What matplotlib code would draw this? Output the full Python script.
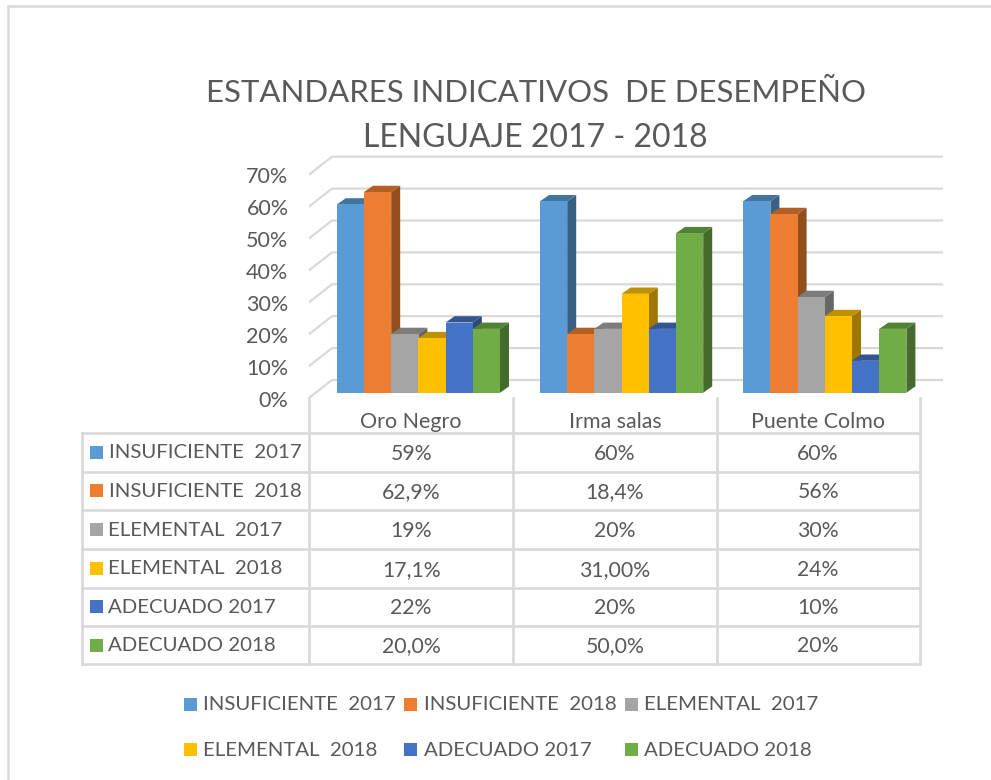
"""
ESTANDARES INDICATIVOS DE DESEMPENO - Lenguaje 2017-2018
Excel style 3D column chart with data table underneath
"""
import matplotlib
matplotlib.use("Agg")
import matplotlib.pyplot as plt
from matplotlib.colors import to_rgb
from matplotlib.patches import Polygon, Rectangle

# ── Data ───────────────────────────────────────────────
schools = ["Oro Negro", "Irma salas", "Puente Colmo"]
series_names = ["INSUFICIENTE  2017", "INSUFICIENTE  2018", "ELEMENTAL  2017",
                "ELEMENTAL  2018", "ADECUADO 2017", "ADECUADO 2018"]

# heights as drawn, in % (series by school)
ins_2017 = [59, 60, 60]
ins_2018 = [62.9, 18.4, 56]
ele_2017 = [18.4, 20, 30]
ele_2018 = [17.1, 31, 24]
ade_2017 = [22, 20, 10]
ade_2018 = [20, 50, 20]
series_values = [ins_2017, ins_2018, ele_2017, ele_2018, ade_2017, ade_2018]

# table cells as printed
table_rows = [
    ["59%", "60%", "60%"],
    ["62,9%", "18,4%", "56%"],
    ["19%", "20%", "30%"],
    ["17,1%", "31,00%", "24%"],
    ["22%", "20%", "10%"],
    ["20,0%", "50,0%", "20%"],
]
grid_values = [0, 10, 20, 30, 40, 50, 60, 70]

# ── Style ──────────────────────────────────────────────
colors = ["#5B9BD5", "#ED7D31", "#A5A5A5", "#FFC000", "#4472C4", "#70AD47"]
TEXT = "#595959"
LINE = "#D9D9D9"
FONT = "Lato"

plt.rcParams["font.family"] = [FONT, "DejaVu Sans"]


def shade(col, k):
    return tuple(c * k for c in to_rgb(col))


W, H = 991, 780
fig = plt.figure(figsize=(W / 100, H / 100), dpi=100, facecolor="white")

# overlay in pixel coordinates for frame, table and legend
page = fig.add_axes([0, 0, 1, 1], zorder=3)
page.set_xlim(0, W)
page.set_ylim(H, 0)
page.axis("off")
page.patch.set_alpha(0)

# ── Chart area: x in school slots, y in percent ────────
PX_X0, PX_X1 = 310, 919
PX_Y0 = 392.7
PX_PER_PCT = 3.19
PX_PER_SLOT = (PX_X1 - PX_X0) / len(schools)
ax = fig.add_axes([PX_X0 / W, 1 - PX_Y0 / H, (PX_X1 - PX_X0) / W, 70 * PX_PER_PCT / H], zorder=2)
ax.set_xlim(0, len(schools))
ax.set_ylim(0, 70)
ax.axis("off")

to_x = 1 / PX_PER_SLOT
to_y = 1 / PX_PER_PCT

# gridlines: front edge, back wall corner, right end
front_dx, front_dy = -1.0 * to_x, -5.3 * to_y
back_dx, back_dy = 22 * to_x, 12.7 * to_y
grid_end = (943 - PX_X0) * to_x
for v in grid_values:
    ax.plot([front_dx, back_dx, grid_end],
            [v + front_dy, v + back_dy, v + back_dy],
            color=LINE, lw=1.6, clip_on=False, zorder=1, solid_capstyle="butt")
    ax.annotate(f"{v}%", (0, v), xytext=(-21.5, -8), textcoords="offset pixels",
                ha="right", va="center", fontsize=15.5, color=TEXT, annotation_clip=False)

# bars
bar_w = 27.2 * to_x
depth_x, depth_y = 9 * to_x, 6.3 * to_y
group_left = [0.132, 1.133, 2.134]
z = 2
for s, vals in enumerate(series_values):
    for g, v in enumerate(vals):
        left = group_left[g] + s * bar_w
        right = left + bar_w
        ax.bar(left, v, bar_w, align="edge", color=colors[s], clip_on=False, zorder=z + 1)
        ax.add_patch(Polygon([(right, 0), (right + depth_x, depth_y),
                              (right + depth_x, v + depth_y), (right, v)],
                             closed=True, fc=shade(colors[s], 0.62), ec="none", clip_on=False, zorder=z))
        ax.add_patch(Polygon([(left, v), (left + depth_x, v + depth_y),
                              (right + depth_x, v + depth_y), (right, v)],
                             closed=True, fc=shade(colors[s], 0.75), ec="none", clip_on=False, zorder=z))
    z += 2

# ── Frame ──────────────────────────────────────────────
page.plot([8, 8, W], [H, 6, 6], color=LINE, lw=1.8, solid_joinstyle="miter")

# ── Title ──────────────────────────────────────────────
page.text(535.5, 93, "ESTANDARES INDICATIVOS  DE DESEMPEÑO", ha="center", va="center",
          fontsize=22.4, color=TEXT)
page.text(535, 138, "LENGUAJE 2017 - 2018", ha="center", va="center",
          fontsize=23, color=TEXT)

# ── Data table ─────────────────────────────────────────
row_edges = [433, 471.7, 510, 549, 587.5, 626, 664]
col_edges = [81.7, 309.3, 513, 716.7, 919.5]
for i, y in enumerate(row_edges):
    page.plot([col_edges[0], col_edges[-1]], [y, y], color=LINE, lw=1.9, solid_capstyle="projecting")
page.plot([col_edges[0]] * 2, [row_edges[0], row_edges[-1]], color=LINE, lw=1.9)
for x in col_edges[1:]:
    page.plot([x, x], [398, row_edges[-1]], color=LINE, lw=1.9)

for c, name in enumerate(schools):
    cx = (col_edges[c + 1] + col_edges[c + 2]) / 2
    page.text(cx, 422, name, ha="center", va="center", fontsize=15.4, color=TEXT)

label_x = [109, 109, 108, 108, 107.5, 107.5]
for r, name in enumerate(series_names):
    cy = (row_edges[r] + row_edges[r + 1]) / 2
    page.add_patch(Rectangle((90, cy - 6.5), 13, 13, fc=colors[r], ec="none"))
    page.text(label_x[r], cy + 0.5, name, ha="left", va="center", fontsize=14.7, color=TEXT)
    for c, cell in enumerate(table_rows[r]):
        cx = (col_edges[c + 1] + col_edges[c + 2]) / 2
        page.text(cx, cy + 1.5, cell, ha="center", va="center", fontsize=15.3, color=TEXT)

# ── Legend ─────────────────────────────────────────────
legend_x = [183.5, 404, 625]
legend_y = [705, 750]
for i, name in enumerate(series_names):
    x = legend_x[i % 3]
    y = legend_y[i // 3]
    page.add_patch(Rectangle((x, y - 7.5), 13, 13, fc=colors[i], ec="none"))
    page.text(x + 19.5, y, name, ha="left", va="center", fontsize=14.7, color=TEXT)

fig.savefig("out.png", dpi=100, facecolor="white")
plt.close(fig)
